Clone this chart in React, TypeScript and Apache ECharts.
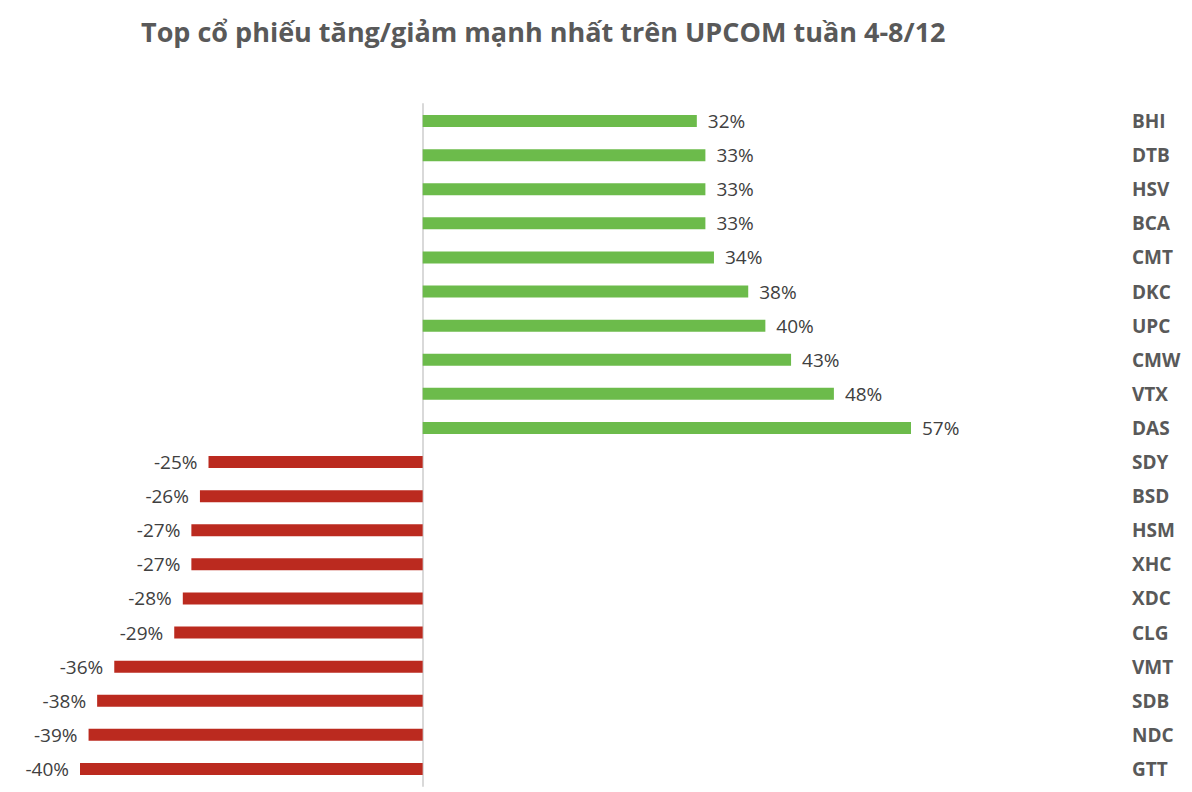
import React, { useEffect, useRef } from "react";
import * as echarts from "echarts";

const TITLE = "Top cổ phiếu tăng/giảm mạnh nhất trên UPCOM tuần 4-8/12";
const categories = [
  "BHI", "DTB", "HSV", "BCA", "CMT", "DKC", "UPC", "CMW", "VTX", "DAS",
  "SDY", "BSD", "HSM", "XHC", "XDC", "CLG", "VMT", "SDB", "NDC", "GTT",
];
const values = [
  32, 33, 33, 33, 34, 38, 40, 43, 48, 57,
  -25, -26, -27, -27, -28, -29, -36, -38, -39, -40,
];

const GREEN = "#6cbb4b";
const RED = "#bb2a1f";

export default function App() {
  const ref = useRef<HTMLDivElement>(null);
  useEffect(() => {
    document.body.style.margin = "0";
    const chart = echarts.init(ref.current!, null, { renderer: "svg" });
    const data = values.map((v) => ({
      value: v,
      itemStyle: { color: v >= 0 ? GREEN : RED },
      label: { position: v >= 0 ? "right" : "left" },
    }));
    chart.setOption({
      animation: false,
      backgroundColor: "#ffffff",
      title: {
        text: TITLE,
        left: 136,
        top: 13,
        textStyle: {
          fontFamily: "Open Sans",
          fontWeight: "bold",
          fontSize: 27,
          color: "#595959",
        },
      },
      grid: { left: 80, right: 281, top: 104, bottom: 6, containLabel: false },
      xAxis: {
        type: "value",
        min: -40,
        max: 57,
        show: false,
        splitLine: { show: false },
      },
      yAxis: [
        {
          type: "category",
          data: categories,
          inverse: true,
          axisLine: { show: true, onZero: true, lineStyle: { color: "#d9d9d9", width: 2 } },
          axisTick: { show: false },
          axisLabel: { show: false },
        },
        {
          type: "category",
          data: categories,
          inverse: true,
          position: "right",
          axisLine: { show: false },
          axisTick: { show: false },
          axisLabel: {
            show: true,
            margin: 221,
            align: "left",
            fontFamily: "Open Sans",
            fontWeight: "bold",
            fontSize: 19,
            color: "#595959",
          },
        },
      ],
      series: [
        {
          type: "bar",
          yAxisIndex: 0,
          data,
          barWidth: 12,
          label: {
            show: true,
            distance: 11,
            formatter: (p: any) => `${p.value}%`,
            fontFamily: "Open Sans",
            fontSize: 19,
            color: "#404040",
          },
        },
      ],
    });
    return () => chart.dispose();
  }, []);
  return (
    <div
      ref={ref}
      style={{ position: "absolute", left: 0, top: 0, width: 1192, height: 792 }}
    />
  );
}
